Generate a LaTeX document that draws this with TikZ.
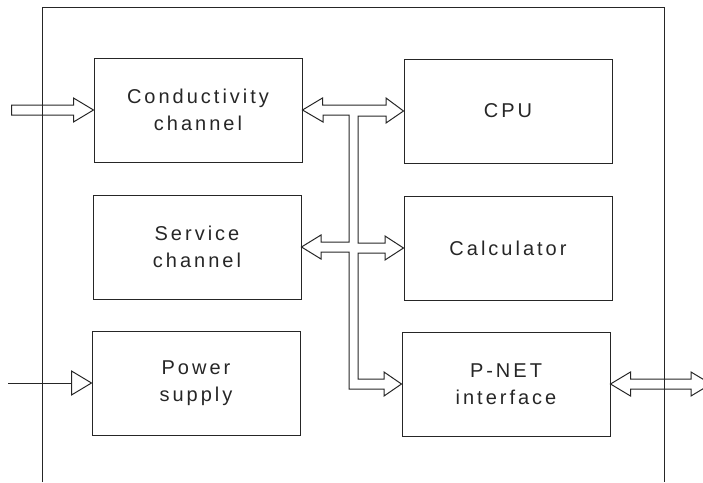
\documentclass[tikz,border=0pt]{standalone}
\usepackage{fontspec}
\newfontfamily\plotfont[LetterSpace=15]{Liberation Sans}
\usetikzlibrary{calc}

\tikzset{
  block/.style={draw, line width=1pt, minimum width=208pt, minimum height=104pt,
    inner sep=0pt, align=center, font=\plotfont\fontsize{20}{27}\selectfont, text=black!85},
  hollow/.style={draw, line width=1pt, line join=miter}
}

\begin{document}
\begin{tikzpicture}[x=1pt, y=-1pt, black!85]
      \clip (0,0) rectangle (703,482);

      % outer frame
      \draw[line width=1pt] (42,482) -- (42,7) -- (664,7) -- (664,482);

      \node[block] (cond)  at (198,110) {Conductivity\\channel};
      \node[block] (cpu)   at (508,111) {CPU};
      \node[block] (serv)  at (197,247) {Service\\channel};
      \node[block] (calc)  at (508,248) {Calculator};
      \node[block] (power) at (196,383) {Power\\supply};
      \node[block] (pnet)  at (506,384) {P-NET\\interface};

      \coordinate (pin) at (8,383);

      % inputs
      \draw[hollow] (cond.west) -- ++(-20,-12) -- ++(0,7) -- ++(-62,0) -- ++(0,10)
            -- ++(62,0) -- ++(0,7) -- cycle;
      \draw[line width=1pt] (pin) -- ($(power.west)+(-20,0)$);
      \draw[hollow] (power.west) -- ++(-20,-12) -- ++(0,24) -- cycle;

      % internal bus
      \draw[hollow] (cond.east) -- ++(20,-12) -- ++(0,7) -- (386,105) -- (386,98)
            -- (cpu.west) -- (386,123) -- (386,116) -- (358,116) -- (358,243)
            -- (385,243) -- (385,236) -- (calc.west) -- (385,260) -- (385,253)
            -- (358,253) -- (358,379) -- (384,379) -- (384,372) -- (pnet.west)
            -- (384,396) -- (384,389) -- (349,389) -- (349,252) -- (321,252)
            -- (321,259) -- (serv.east) -- (321,235) -- (321,242) -- (349,242)
            -- (349,115) -- (323,115) -- (323,122) -- cycle;

      % P-NET line
      \draw[hollow] (pnet.east) -- ++(20,-12) -- ++(0,7) -- (691,379) -- (691,372)
            -- (711,384) -- (691,396) -- (691,389) -- ($(pnet.east)+(20,5)$)
            -- ++(0,7) -- cycle;
\end{tikzpicture}
\end{document}
